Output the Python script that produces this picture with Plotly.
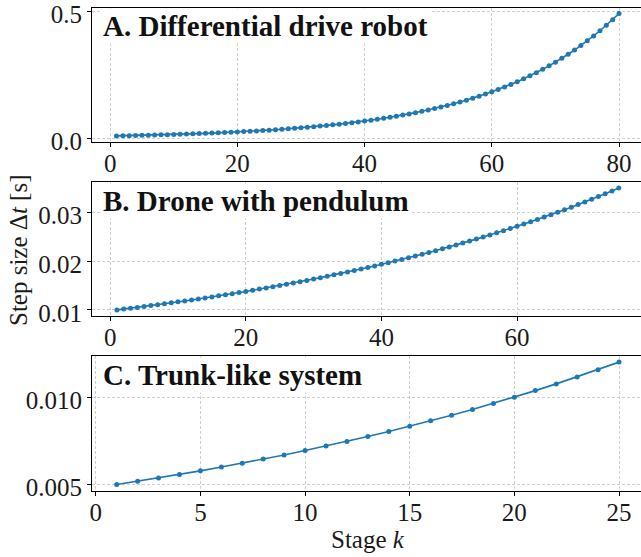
import plotly.graph_objects as go

# Stage-wise step sizes for the three benchmark systems
stages_a = list(range(1, 81))
dt_a = [
    0.0100, 0.0105, 0.0110, 0.0116, 0.0122, 0.0128, 0.0134, 0.0141, 0.0148, 0.0156,
    0.0164, 0.0172, 0.0181, 0.0190, 0.0199, 0.0209, 0.0220, 0.0231, 0.0243, 0.0255,
    0.0268, 0.0281, 0.0296, 0.0311, 0.0326, 0.0343, 0.0360, 0.0378, 0.0397, 0.0417,
    0.0438, 0.0461, 0.0484, 0.0508, 0.0534, 0.0561, 0.0589, 0.0619, 0.0650, 0.0683,
    0.0717, 0.0754, 0.0792, 0.0832, 0.0874, 0.0918, 0.0964, 0.1013, 0.1064, 0.1118,
    0.1174, 0.1233, 0.1296, 0.1361, 0.1430, 0.1502, 0.1578, 0.1658, 0.1741, 0.1829,
    0.1922, 0.2019, 0.2121, 0.2228, 0.2340, 0.2458, 0.2583, 0.2713, 0.2850, 0.2994,
    0.3145, 0.3304, 0.3471, 0.3646, 0.3830, 0.4024, 0.4227, 0.4440, 0.4664, 0.4900,
]

stages_b = list(range(1, 76))
dt_b = [
    0.01000, 0.01017, 0.01034, 0.01052, 0.01070, 0.01088, 0.01107, 0.01126, 0.01145, 0.01165,
    0.01184, 0.01205, 0.01225, 0.01246, 0.01267, 0.01289, 0.01311, 0.01333, 0.01356, 0.01379,
    0.01403, 0.01427, 0.01451, 0.01476, 0.01501, 0.01527, 0.01553, 0.01580, 0.01606, 0.01634,
    0.01662, 0.01690, 0.01719, 0.01748, 0.01778, 0.01809, 0.01839, 0.01871, 0.01903, 0.01935,
    0.01968, 0.02002, 0.02036, 0.02071, 0.02106, 0.02142, 0.02179, 0.02216, 0.02254, 0.02292,
    0.02331, 0.02371, 0.02412, 0.02453, 0.02495, 0.02537, 0.02581, 0.02625, 0.02669, 0.02715,
    0.02761, 0.02809, 0.02856, 0.02905, 0.02955, 0.03005, 0.03057, 0.03109, 0.03162, 0.03216,
    0.03271, 0.03327, 0.03383, 0.03441, 0.03500,
]

stages_c = list(range(1, 26))
dt_c = [
    0.005000, 0.005186, 0.005378, 0.005578, 0.005785, 0.006000, 0.006223, 0.006455,
    0.006694, 0.006943, 0.007201, 0.007469, 0.007746, 0.008034, 0.008332, 0.008642,
    0.008963, 0.009296, 0.009641, 0.009999, 0.010371, 0.010756, 0.011156, 0.011570,
    0.012000,
]

panel_titles = ["A. Differential drive robot", "B. Drone with pendulum", "C. Trunk-like system"]
xticks_a = [0, 20, 40, 60, 80]
xticks_b = [0, 20, 40, 60]
xticks_c = [0, 5, 10, 15, 20, 25]
yticks_a = [0.0, 0.5]
yticks_b = [0.01, 0.02, 0.03]
yticks_c = [0.005, 0.010]

W, H = 641, 557
LEFT = 92
PLOT_W = W - LEFT
SERIF = "Liberation Serif"
BLUE = "#1f77b4"
GRID = "#cfcfcf"
TICK_SIZE = 25
TITLE_SIZE = 29


def pad_range(vals, frac=0.05):
    lo, hi = min(vals), max(vals)
    span = hi - lo
    return [lo - frac * span, hi + frac * span]


def ydom(top_px, bottom_px):
    return [1 - bottom_px / H, 1 - top_px / H]


panels = [
    dict(x=stages_a, y=dt_a, xt=xticks_a, yt=yticks_a, yfmt=".1f",
         xr=[-2.85, 83.45], dom=ydom(7.5, 142)),
    dict(x=stages_b, y=dt_b, xt=xticks_b, yt=yticks_b, yfmt=".2f",
         xr=[-2.68, 78.28], dom=ydom(182, 316)),
    dict(x=stages_c, y=dt_c, xt=xticks_c, yt=yticks_c, yfmt=".3f",
         xr=[-0.18, 26.05], dom=ydom(356, 490.7)),
]

fig = go.Figure()
layout = dict(
    width=W, height=H,
    margin=dict(l=LEFT, r=0, t=0, b=0, autoexpand=False),
    paper_bgcolor="white", plot_bgcolor="white",
    showlegend=False,
    font=dict(family=SERIF, size=TICK_SIZE, color="black"),
)

annotations = []
for i, p in enumerate(panels):
    n = "" if i == 0 else str(i + 1)
    xa, ya = "x" + n, "y" + n
    fig.add_trace(go.Scatter(
        x=p["x"], y=p["y"], mode="lines+markers",
        line=dict(color=BLUE, width=1.6),
        marker=dict(color=BLUE, size=5),
        xaxis=xa, yaxis=ya,
    ))
    axis_common = dict(
        showline=True, linecolor="black", linewidth=1,
        ticks="outside", ticklen=4, tickwidth=1, tickcolor="black",
        showgrid=True, gridcolor=GRID, gridwidth=0.8, griddash="3px,2px",
        zeroline=False, automargin=False, ticklabeloverflow="allow",
        tickfont=dict(family=SERIF, size=TICK_SIZE, color="#1a1a1a"),
    )
    layout["xaxis" + n] = dict(
        axis_common, domain=[0, 1], range=p["xr"], mirror=True,
        tickmode="array", tickvals=p["xt"], anchor=ya,
        ticklabelstandoff=-5,
    )
    layout["yaxis" + n] = dict(
        axis_common, domain=p["dom"], range=pad_range(p["y"]), mirror=False,
        tickmode="array", tickvals=p["yt"], tickformat=p["yfmt"], anchor=xa,
        ticklabelshift=3, ticklabelstandoff=0,
    )
    annotations.append(dict(
        text="<b>" + panel_titles[i] + "</b>",
        xref=xa + " domain", yref=ya + " domain",
        x=0.016, y=0.995, xanchor="left", yanchor="top",
        showarrow=False, bgcolor="white", borderpad=1,
        font=dict(family=SERIF, size=TITLE_SIZE, color="#111"),
    ))

annotations.append(dict(
    text="Step size Δ<i>t</i> [s]", textangle=-90,
    xref="paper", yref="paper", x=(18 - LEFT) / PLOT_W, y=1 - 251 / H,
    xanchor="center", yanchor="middle", showarrow=False,
    font=dict(family=SERIF, size=TICK_SIZE, color="#1a1a1a"),
))
annotations.append(dict(
    text="Stage <i>k</i>", xref="paper", yref="paper",
    x=(368 - LEFT) / PLOT_W, y=1 - 539 / H, xanchor="center", yanchor="middle",
    showarrow=False, font=dict(family=SERIF, size=TICK_SIZE, color="#1a1a1a"),
))
layout["annotations"] = annotations

fig.update_layout(**layout)
fig.write_html("out.html")
